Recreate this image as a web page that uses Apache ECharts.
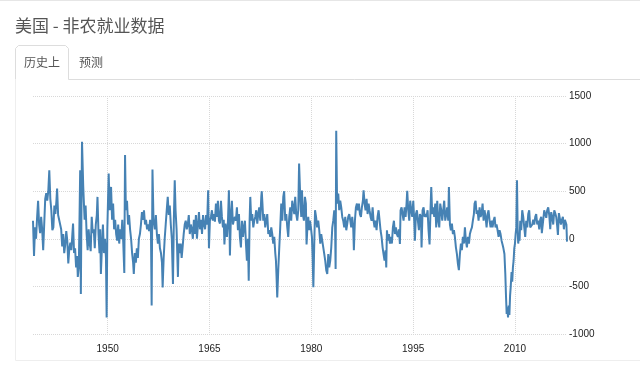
<!DOCTYPE html>
<html><head><meta charset="utf-8">
<script src="https://cdn.jsdelivr.net/npm/echarts@6/dist/echarts.min.js"></script>
<style>html,body{margin:0;padding:0;background:#fff}#c{width:640px;height:365px}</style>
</head><body><div id="c"></div>
<script>
// [decimal year, monthly change in thousands]
const nfp1939to1949 = [[1939.0,190],[1939.15,-180],[1939.3,120],[1939.45,0],[1939.6,220],[1939.75,400],[1939.9,150],[1940.05,60],[1940.2,230],[1940.35,100],[1940.5,-120],[1940.65,150],[1940.8,420],[1940.95,480],[1941.1,400],[1941.25,500],[1941.4,720],[1941.55,420],[1941.7,300],[1941.85,90],[1942.0,120],[1942.15,350],[1942.3,260],[1942.45,400],[1942.55,527],[1942.7,250],[1942.85,200],[1943.0,220],[1943.15,100],[1943.3,-80],[1943.45,50],[1943.6,-150],[1943.75,-60],[1943.9,80],[1944.05,-20],[1944.2,-260],[1944.35,-100],[1944.5,-40],[1944.65,-120],[1944.8,50],[1944.9,160],[1945.05,-150],[1945.2,-100],[1945.35,-300],[1945.5,-180],[1945.6,-400],[1945.75,-300],[1945.85,200],[1945.95,720],[1946.05,-580],[1946.15,400],[1946.22,1020],[1946.4,550],[1946.6,200],[1946.75,350],[1946.9,50],[1947.05,-120],[1947.2,100],[1947.35,-50],[1947.5,-130],[1947.65,230],[1947.8,60],[1947.95,100],[1948.1,-100],[1948.25,150],[1948.4,250],[1948.5,440],[1948.65,50],[1948.8,-150],[1948.9,100],[1949.0,-370],[1949.15,-100],[1949.3,150],[1949.45,-150],[1949.6,0],[1949.75,-200],[1949.85,-826],[1949.95,100]];
const nfp1950to1964 = [[1950.05,400],[1950.15,685],[1950.3,300],[1950.4,400],[1950.5,545],[1950.65,200],[1950.8,370],[1950.95,100],[1951.1,200],[1951.25,50],[1951.4,-20],[1951.55,150],[1951.7,-50],[1951.85,100],[1952.0,0],[1952.15,200],[1952.3,-50],[1952.45,-360],[1952.56,880],[1952.68,300],[1952.85,400],[1953.0,150],[1953.15,250],[1953.3,100],[1953.45,0],[1953.6,-150],[1953.75,-250],[1953.85,-370],[1954.0,-150],[1954.15,-250],[1954.3,-100],[1954.45,-200],[1954.6,0],[1954.75,50],[1954.9,150],[1955.05,280],[1955.2,200],[1955.35,300],[1955.5,150],[1955.65,200],[1955.8,100],[1955.95,150],[1956.1,80],[1956.25,200],[1956.38,50],[1956.48,-700],[1956.6,727],[1956.75,200],[1956.95,100],[1957.1,250],[1957.25,50],[1957.4,-50],[1957.55,50],[1957.7,-100],[1957.85,-150],[1958.0,-250],[1958.1,-510],[1958.25,-200],[1958.4,0],[1958.55,150],[1958.7,300],[1958.85,440],[1959.0,250],[1959.15,350],[1959.3,150],[1959.45,0],[1959.62,-475],[1959.75,200],[1959.88,615],[1960.0,300],[1960.15,100],[1960.35,-400],[1960.45,-50],[1960.6,-150],[1960.75,-50],[1960.9,-200],[1961.05,-80],[1961.2,50],[1961.35,150],[1961.5,190],[1961.65,100],[1961.8,150],[1961.95,250],[1962.1,50],[1962.25,150],[1962.4,100],[1962.55,0],[1962.7,200],[1962.85,50],[1963.0,250],[1963.15,0],[1963.3,150],[1963.45,280],[1963.6,100],[1963.75,200],[1963.9,50],[1964.05,250],[1964.2,150],[1964.35,100],[1964.5,250],[1964.65,150],[1964.8,510],[1964.92,-100]];
const nfp1965to1979 = [[1965.06,190],[1965.21,230],[1965.36,300],[1965.5,190],[1965.65,260],[1965.8,180],[1965.95,370],[1966.1,230],[1966.24,400],[1966.39,190],[1966.54,160],[1966.69,400],[1966.83,230],[1966.98,120],[1967.1,200],[1967.2,-60],[1967.35,160],[1967.57,20],[1967.72,180],[1967.86,510],[1968.01,-175],[1968.16,260],[1968.3,400],[1968.45,150],[1968.6,200],[1968.75,230],[1968.89,190],[1969.04,330],[1969.19,90],[1969.34,260],[1969.48,20],[1969.63,-90],[1969.78,190],[1969.93,20],[1970.07,120],[1970.22,190],[1970.37,-50],[1970.51,-230],[1970.66,0],[1970.78,-440],[1970.91,190],[1971.01,440],[1971.15,190],[1971.3,260],[1971.45,120],[1971.6,190],[1971.74,230],[1971.89,300],[1972.04,160],[1972.18,260],[1972.33,330],[1972.48,190],[1972.63,440],[1972.7,500],[1972.8,370],[1972.92,190],[1973.07,260],[1973.21,120],[1973.36,190],[1973.51,260],[1973.66,50],[1973.8,90],[1973.95,20],[1974.1,120],[1974.25,50],[1974.39,-50],[1974.54,20],[1974.69,-150],[1974.79,-230],[1974.88,-400],[1974.98,-615],[1975.13,-330],[1975.28,-90],[1975.42,120],[1975.57,370],[1975.72,190],[1975.87,440],[1976.0,500],[1976.16,190],[1976.31,260],[1976.46,120],[1976.6,20],[1976.75,230],[1976.9,330],[1977.04,190],[1977.19,400],[1977.34,330],[1977.49,260],[1977.63,440],[1977.78,260],[1977.93,190],[1978.08,300],[1978.2,790],[1978.37,440],[1978.52,230],[1978.62,510],[1978.76,260],[1978.91,190],[1979.06,440],[1979.2,370],[1979.3,-60],[1979.42,120],[1979.55,230],[1979.68,90],[1979.8,190],[1979.94,120]];
const nfp1980to1994 = [[1980.09,20],[1980.2,-200],[1980.3,-510],[1980.42,-100],[1980.55,300],[1980.7,230],[1980.85,120],[1981.02,190],[1981.17,90],[1981.32,-50],[1981.46,50],[1981.61,-20],[1981.76,-90],[1981.91,-160],[1982.05,-230],[1982.2,-330],[1982.35,-370],[1982.5,-160],[1982.64,-300],[1982.79,-230],[1982.94,-90],[1983.09,120],[1983.23,190],[1983.38,300],[1983.5,150],[1983.58,-316],[1983.67,1135],[1983.8,370],[1983.97,475],[1984.11,300],[1984.26,400],[1984.41,330],[1984.56,230],[1984.7,190],[1984.85,120],[1985.0,230],[1985.15,90],[1985.3,160],[1985.44,230],[1985.59,260],[1985.74,190],[1985.88,120],[1986.03,230],[1986.18,100],[1986.27,-120],[1986.42,190],[1986.57,330],[1986.72,370],[1986.87,300],[1987.01,370],[1987.16,260],[1987.31,230],[1987.45,330],[1987.6,400],[1987.7,510],[1987.85,370],[1987.99,300],[1988.14,420],[1988.29,260],[1988.44,370],[1988.58,300],[1988.73,230],[1988.88,190],[1989.03,330],[1989.17,190],[1989.32,120],[1989.47,190],[1989.61,90],[1989.76,230],[1989.91,300],[1990.06,190],[1990.2,90],[1990.35,20],[1990.5,-90],[1990.64,-160],[1990.79,-230],[1990.94,-120],[1991.04,-300],[1991.14,90],[1991.28,-20],[1991.43,50],[1991.58,-50],[1991.73,20],[1991.87,-50],[1992.02,120],[1992.17,190],[1992.32,50],[1992.46,120],[1992.61,50],[1992.76,20],[1992.9,100],[1993.05,-55],[1993.15,300],[1993.3,330],[1993.44,260],[1993.59,190],[1993.74,330],[1993.89,230],[1994.03,370],[1994.13,505],[1994.28,300],[1994.43,190],[1994.57,400],[1994.72,300],[1994.87,230]];
const nfp1995to2009 = [[1995.02,400],[1995.16,190],[1995.26,-20],[1995.41,260],[1995.56,300],[1995.7,190],[1995.85,90],[1996.0,260],[1996.15,230],[1996.24,-90],[1996.39,300],[1996.54,330],[1996.69,230],[1996.83,260],[1996.98,230],[1997.13,300],[1997.27,90],[1997.42,-60],[1997.57,330],[1997.67,545],[1997.81,260],[1997.96,330],[1998.11,230],[1998.26,370],[1998.4,120],[1998.55,400],[1998.7,190],[1998.85,120],[1998.99,370],[1999.14,300],[1999.29,190],[1999.43,300],[1999.58,400],[1999.73,190],[1999.88,260],[2000.02,330],[2000.17,190],[2000.27,545],[2000.42,150],[2000.56,90],[2000.71,160],[2000.86,50],[2001.01,90],[2001.15,20],[2001.3,-90],[2001.45,-160],[2001.6,-265],[2001.74,-330],[2001.89,-160],[2002.04,-50],[2002.18,-120],[2002.33,20],[2002.48,-50],[2002.63,120],[2002.77,-20],[2002.92,-90],[2003.07,20],[2003.22,-50],[2003.36,50],[2003.51,90],[2003.66,120],[2003.8,190],[2003.95,260],[2004.05,370],[2004.2,400],[2004.35,260],[2004.49,300],[2004.64,190],[2004.79,330],[2004.93,230],[2005.08,260],[2005.23,370],[2005.38,190],[2005.52,300],[2005.67,230],[2005.82,120],[2005.97,260],[2006.11,300],[2006.26,190],[2006.41,120],[2006.56,190],[2006.7,120],[2006.85,190],[2007.0,230],[2007.14,120],[2007.29,150],[2007.44,90],[2007.59,20],[2007.73,90],[2007.88,50],[2008.03,-20],[2008.17,-60],[2008.3,-100],[2008.45,-160],[2008.58,-370],[2008.68,-600],[2008.78,-790],[2008.88,-720],[2008.98,-826],[2009.08,-700],[2009.18,-800],[2009.28,-600],[2009.38,-500],[2009.5,-350],[2009.6,-450],[2009.7,-300],[2009.8,-230],[2009.9,-100]];
const nfp2010to2017 = [[2010.0,-50],[2010.1,50],[2010.2,120],[2010.3,615],[2010.4,100],[2010.48,-50],[2010.58,20],[2010.68,-20],[2010.78,190],[2010.92,90],[2011.07,300],[2011.22,230],[2011.37,120],[2011.51,20],[2011.66,190],[2011.81,120],[2011.96,260],[2012.1,300],[2012.25,120],[2012.4,100],[2012.55,150],[2012.69,200],[2012.84,150],[2012.99,230],[2013.13,260],[2013.28,150],[2013.43,190],[2013.58,100],[2013.72,200],[2013.87,230],[2013.96,60],[2014.17,200],[2014.31,300],[2014.46,260],[2014.61,220],[2014.75,300],[2014.9,330],[2015.05,250],[2015.2,100],[2015.34,280],[2015.49,230],[2015.64,150],[2015.79,300],[2015.93,270],[2016.08,230],[2016.2,150],[2016.33,40],[2016.47,270],[2016.62,250],[2016.77,150],[2016.92,200],[2017.06,230],[2017.21,100],[2017.36,200],[2017.5,220],[2017.58,150],[2017.667,-30]];

const yearTicks = [1950, 1965, 1980, 1995, 2010];
const yMin = -1000, yMax = 1500, yStep = 500;
const xStart = 1939.0, xEnd = 2017.667;

const seriesData = [].concat(nfp1939to1949, nfp1950to1964, nfp1965to1979, nfp1980to1994, nfp1995to2009, nfp2010to2017);

const chart = echarts.init(document.getElementById('c'), null, {renderer: 'canvas'});
const labelFont = '"Liberation Sans Narrow", "Arial Narrow", "Liberation Sans", sans-serif';
chart.setOption({
  animation: false,
  backgroundColor: '#fff',
  title: {
    text: '美国 - 非农就业数据', left: 15, top: 17, padding: 0,
    textStyle: {fontFamily: '"Noto Sans CJK SC", sans-serif', fontSize: 17, fontWeight: 'normal', color: '#555'}
  },
  grid: {left: 33, right: 73, top: 96, bottom: 31, containLabel: false},
  xAxis: {
    type: 'value', min: xStart, max: xEnd,
    axisLine: {show: false},
    axisTick: {show: false, customValues: yearTicks},
    axisLabel: {customValues: yearTicks, margin: 10, fontSize: 10, color: '#222', fontFamily: labelFont, formatter: v => String(Math.round(v))},
    splitLine: {show: true, lineStyle: {type: 'dotted', color: '#d8d8d8', width: 1}}
  },
  yAxis: {
    type: 'value', position: 'right', min: yMin, max: yMax, interval: yStep,
    axisLine: {show: false}, axisTick: {show: false},
    axisLabel: {margin: 2, fontSize: 10, color: '#222', fontFamily: labelFont, formatter: v => String(v)},
    splitLine: {show: true, lineStyle: {type: 'dotted', color: '#d8d8d8', width: 1}}
  },
  series: [{
    type: 'line', data: seriesData, showSymbol: false, symbol: 'none',
    lineStyle: {color: '#4682b4', width: 2}, smooth: false
  }],
  graphic: [
    {type: 'line', shape: {x1: 0, y1: 0.5, x2: 640, y2: 0.5}, style: {stroke: '#e6e6e6', lineWidth: 1}, silent: true},
    {type: 'polyline', shape: {points: [[15.5, 79.5], [15.5, 48.5], [18.5, 45.5], [65.5, 45.5], [68.5, 48.5], [68.5, 79.5]]}, style: {stroke: '#dddddd', fill: null, lineWidth: 1}, silent: true},
    {type: 'line', shape: {x1: 68.5, y1: 79.5, x2: 640, y2: 79.5}, style: {stroke: '#dddddd', lineWidth: 1}, silent: true},
    {type: 'line', shape: {x1: 15.5, y1: 79.5, x2: 15.5, y2: 360.5}, style: {stroke: '#eeeeee', lineWidth: 1}, silent: true},
    {type: 'line', shape: {x1: 15.5, y1: 360.5, x2: 640, y2: 360.5}, style: {stroke: '#eeeeee', lineWidth: 1}, silent: true},
    {type: 'text', style: {text: '历史上', x: 24, y: 62, verticalAlign: 'middle', font: '12px "Noto Sans CJK SC", sans-serif', fill: '#555'}, silent: true},
    {type: 'text', style: {text: '预测', x: 79, y: 62, verticalAlign: 'middle', font: '12px "Noto Sans CJK SC", sans-serif', fill: '#555'}, silent: true}
  ]
});
</script>
</body></html>
